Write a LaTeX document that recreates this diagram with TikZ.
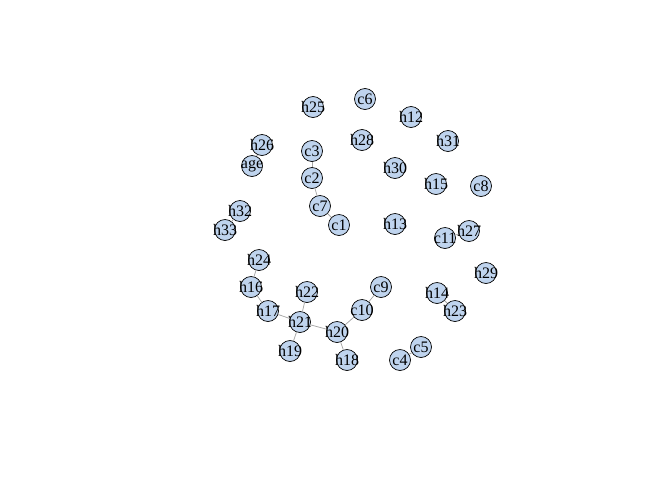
\documentclass[tikz,border=0pt]{standalone}
\usepackage{fontspec}
\setmainfont{Liberation Serif}
\usepackage{tikz}
\definecolor{vfill}{HTML}{BFD4EE}
\tikzset{
	vert/.style={circle,draw=black,line width=0.7pt,fill=vfill,inner sep=0pt,minimum size=21pt,
		label={[inner sep=0pt,font=\fontsize{16}{16}\selectfont]center:#1}},
	link/.style={draw=gray!70,line width=0.75pt}
}

\begin{document}
\begin{tikzpicture}[x=1pt,y=-1pt]
		\useasboundingbox (0,0) rectangle (672,480);

		\node[vert=h25] (h25) at (313,107) {};
		\node[vert=c6]  (c6)  at (365, 99) {};
		\node[vert=h12] (h12) at (411,117) {};
		\node[vert=h31] (h31) at (448,141) {};
		\node[vert=h28] (h28) at (362,140) {};
		\node[vert=h26] (h26) at (262,145) {};
		\node[vert=c3]  (c3)  at (312,151) {};
		\node[vert=age] (age) at (252,166) {};
		\node[vert=h30] (h30) at (395,168) {};
		\node[vert=h15] (h15) at (436,184) {};
		\node[vert=c8]  (c8)  at (481,186) {};
		\node[vert=c2]  (c2)  at (312,178) {};
		\node[vert=c7]  (c7)  at (320,206) {};
		\node[vert=c1]  (c1)  at (339,225) {};
		\node[vert=h32] (h32) at (240,211) {};
		\node[vert=h33] (h33) at (225,230) {};
		\node[vert=h13] (h13) at (395,224) {};
		\node[vert=c11] (c11) at (445,238) {};
		\node[vert=h27] (h27) at (469,231) {};
		\node[vert=h29] (h29) at (486,273) {};
		\node[vert=h24] (h24) at (259,260) {};
		\node[vert=c9]  (c9)  at (381,287) {};
		\node[vert=h16] (h16) at (251,287) {};
		\node[vert=h22] (h22) at (307,292) {};
		\node[vert=h14] (h14) at (437,293) {};
		\node[vert=h17] (h17) at (268,311) {};
		\node[vert=h23] (h23) at (455,311) {};
		\node[vert=c10] (c10) at (362,310) {};
		\node[vert=h21] (h21) at (300,322) {};
		\node[vert=h20] (h20) at (337,332) {};
		\node[vert=h19] (h19) at (290,351) {};
		\node[vert=h18] (h18) at (347,360) {};
		\node[vert=c5]  (c5)  at (421,347) {};
		\node[vert=c4]  (c4)  at (400,360) {};

		\draw[link] (h26) -- (age);
		\draw[link] (c3)  -- (c2);
		\draw[link] (c2)  -- (c7);
		\draw[link] (c7)  -- (c1);
		\draw[link] (h32) -- (h33);
		\draw[link] (c11) -- (h27);
		\draw[link] (h24) -- (h16);
		\draw[link] (h16) -- (h17);
		\draw[link] (h17) -- (h21);
		\draw[link] (h21) -- (h22);
		\draw[link] (h21) -- (h19);
		\draw[link] (h21) -- (h20);
		\draw[link] (h20) -- (h18);
		\draw[link] (h20) -- (c10);
		\draw[link] (c10) -- (c9);
		\draw[link] (h14) -- (h23);
		\draw[link] (c4)  -- (c5);
\end{tikzpicture}
\end{document}
